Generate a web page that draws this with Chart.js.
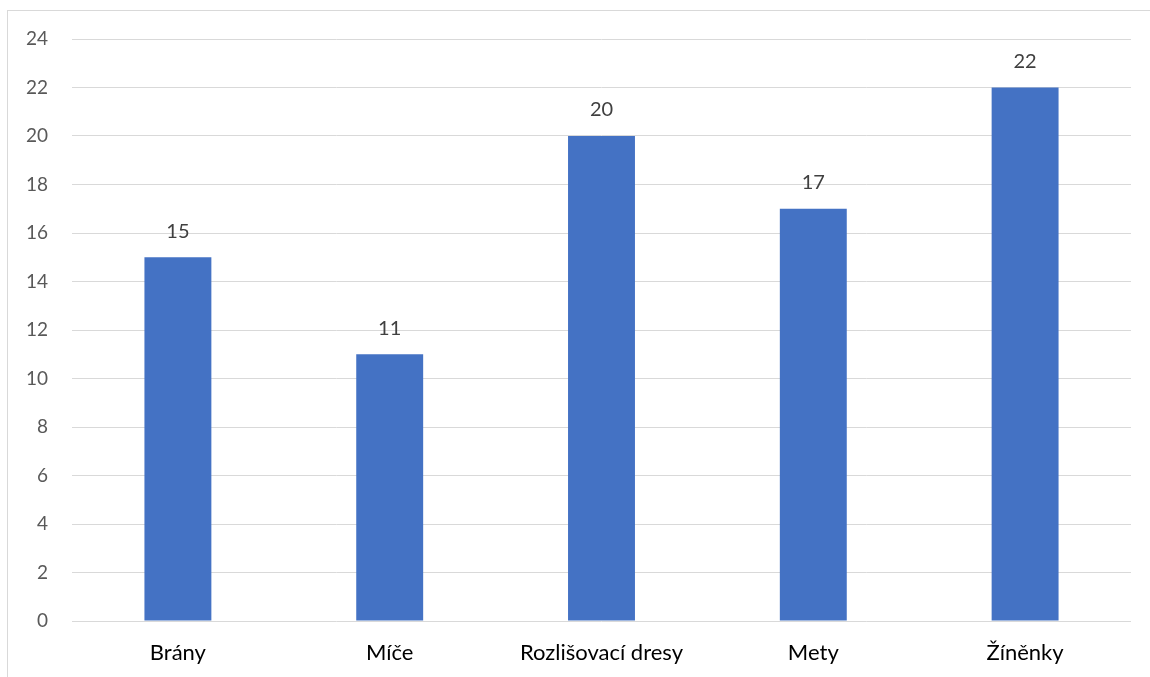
<!DOCTYPE html>
<html>
<head>
<meta charset="utf-8">
<script src="https://cdn.jsdelivr.net/npm/chart.js@4"></script>
<style>
  html, body { margin: 0; padding: 0; background: #fff; overflow: hidden; }
  #frame { position: absolute; left: 7px; top: 10px; width: 1200px; height: 700px; border: 1px solid #d9d9d9; }
  #bar { position: absolute; left: 0; top: 0; }
</style>
</head>
<body>
<div id="frame"></div>
<canvas id="bar" width="1150" height="677"></canvas>
<script>
const categories = ["Brány", "Míče", "Rozlišovací dresy", "Mety", "Žíněnky"];
const values = [15, 11, 20, 17, 22];
const yTicks = [0, 2, 4, 6, 8, 10, 12, 14, 16, 18, 20, 22, 24];

const FONT = "Lato, 'Open Sans', sans-serif";

// popisky hodnot nad sloupci
const valueLabels = {
  id: "valueLabels",
  afterDatasetsDraw(chart) {
    const ctx = chart.ctx;
    const meta = chart.getDatasetMeta(0);
    ctx.save();
    ctx.font = "20px " + FONT;
    ctx.fillStyle = "#404040";
    ctx.textAlign = "center";
    ctx.textBaseline = "middle";
    meta.data.forEach((bar, i) => {
      ctx.fillText(String(values[i]), bar.x, bar.y - 26);
    });
    ctx.restore();
  },
};

new Chart(document.getElementById("bar"), {
  type: "bar",
  data: {
    labels: categories,
    datasets: [
      {
        data: values,
        backgroundColor: "#4472c4",
        borderWidth: 0,
        categoryPercentage: 1,
        barPercentage: 0.316,
      },
    ],
  },
  options: {
    responsive: false,
    animation: false,
    layout: { padding: { left: 0, right: 19, top: 39, bottom: 0 } },
    plugins: {
      legend: { display: false },
      tooltip: { enabled: false },
    },
    scales: {
      x: {
        grid: { display: false },
        border: { display: false },
        ticks: {
          color: "#000",
          font: { family: FONT, size: 22 },
          padding: 11,
          maxRotation: 0,
        },
        afterFit(scale) { scale.height = 56; },
      },
      y: {
        min: 0,
        max: 24,
        afterBuildTicks(scale) { scale.ticks = yTicks.map((v) => ({ value: v })); },
        grid: { color: "#d9d9d9", lineWidth: 1, drawTicks: false },
        border: { display: false },
        ticks: {
          color: "#595959",
          font: { family: FONT, size: 19 },
          padding: 24,
        },
        afterFit(scale) { scale.width = 72; },
      },
    },
  },
  plugins: [valueLabels],
});
</script>
</body>
</html>
